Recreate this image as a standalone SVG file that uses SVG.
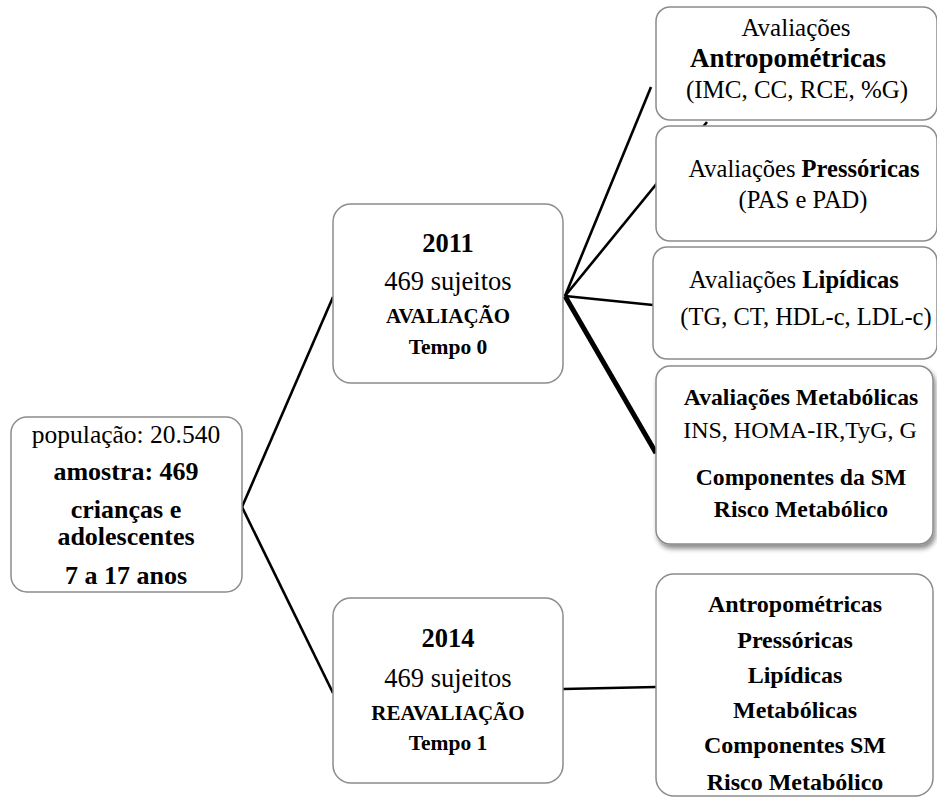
<svg xmlns="http://www.w3.org/2000/svg" width="937" height="798" viewBox="0 0 937 798">
<defs>
<style>
.box{fill:#fff;stroke:#8c8c8c;stroke-width:1.5}
.t{font-family:"Liberation Serif","Times New Roman",serif;fill:#000;text-anchor:middle}
.b{font-weight:bold}
.c{stroke:#000;stroke-width:2.6;fill:none;stroke-linecap:butt}
</style>
<filter id="sh" x="-10%" y="-10%" width="130%" height="130%">
<feDropShadow dx="2" dy="4" stdDeviation="2.5" flood-color="#000" flood-opacity="0.45"/>
</filter>
</defs>
<rect width="937" height="798" fill="#fff"/>
<g id="connectors">
<line class="c" x1="242" y1="507" x2="333" y2="297"/>
<line class="c" x1="242" y1="507" x2="333" y2="693"/>
<line class="c" x1="565" y1="296" x2="651" y2="87"/>
<line class="c" x1="565" y1="296" x2="707" y2="122"/>
<line class="c" x1="565" y1="296" x2="653" y2="305"/>
<line class="c" x1="565" y1="296" x2="656" y2="453" style="stroke-width:5"/>
<line class="c" x1="563" y1="689" x2="656" y2="687"/>
</g>
<g id="populacao">
<rect class="box" x="11" y="417" width="231" height="175" rx="16"/>
<text class="t" x="126" y="443" font-size="25.5">população: 20.540</text>
<text class="t b" x="126" y="480" font-size="26">amostra: 469</text>
<text class="t b" x="126" y="518" font-size="26">crianças e</text>
<text class="t b" x="126" y="545" font-size="26">adolescentes</text>
<text class="t b" x="126" y="584" font-size="26">7 a 17 anos</text>
</g>
<g id="n2011">
<rect class="box" x="333" y="204" width="230" height="179" rx="18"/>
<text class="t b" x="448" y="252" font-size="26.5">2011</text>
<text class="t" x="448" y="290" font-size="26.5">469 sujeitos</text>
<text class="t b" x="448" y="323" font-size="21">AVALIAÇÃO</text>
<text class="t b" x="448" y="354" font-size="21.5">Tempo 0</text>
</g>
<g id="n2014">
<rect class="box" x="333" y="598" width="230" height="185" rx="18"/>
<text class="t b" x="448" y="647" font-size="26.5">2014</text>
<text class="t" x="448" y="687" font-size="26.5">469 sujeitos</text>
<text class="t b" x="448" y="720" font-size="21">REAVALIAÇÃO</text>
<text class="t b" x="448" y="750" font-size="21.5">Tempo 1</text>
</g>
<g id="antropometricas">
<rect class="box" x="656" y="7" width="281" height="113" rx="14"/>
<text class="t" x="796" y="36" font-size="25">Avaliações</text>
<text class="t b" x="788" y="67" font-size="27">Antropométricas</text>
<text class="t" x="797" y="98" font-size="25">(IMC, CC, RCE, %G)</text>
</g>
<g id="pressoricas">
<rect class="box" x="656" y="126" width="281" height="115" rx="14"/>
<text class="t" x="804" y="177" font-size="24.5">Avaliações <tspan class="b">Pressóricas</tspan></text>
<text class="t" x="803" y="208" font-size="24.5">(PAS e PAD)</text>
</g>
<g id="lipidicas">
<rect class="box" x="653" y="247" width="284" height="112" rx="14"/>
<text class="t" x="794" y="288" font-size="24.5">Avaliações <tspan class="b">Lipídicas</tspan></text>
<text class="t" x="806" y="325" font-size="24.5">(TG, CT, HDL-c, LDL-c)</text>
</g>
<g id="metabolicas">
<rect class="box" x="656" y="366" width="277" height="178" rx="14" filter="url(#sh)"/>
<text class="t b" x="801" y="405" font-size="23.7">Avaliações Metabólicas</text>
<text class="t" x="800" y="438" font-size="24">INS, HOMA-IR,TyG, G</text>
<text class="t b" x="801" y="485" font-size="23.7">Componentes da SM</text>
<text class="t b" x="801" y="517" font-size="23.7">Risco Metabólico</text>
</g>
<g id="reavaliacao">
<rect class="box" x="656" y="574" width="277" height="222" rx="18"/>
<text class="t b" x="795" y="612" font-size="24">Antropométricas</text>
<text class="t b" x="795" y="648" font-size="24">Pressóricas</text>
<text class="t b" x="795" y="683" font-size="24">Lipídicas</text>
<text class="t b" x="795" y="718" font-size="24">Metabólicas</text>
<text class="t b" x="795" y="753" font-size="24">Componentes SM</text>
<text class="t b" x="795" y="790" font-size="24">Risco Metabólico</text>
</g>
</svg>
